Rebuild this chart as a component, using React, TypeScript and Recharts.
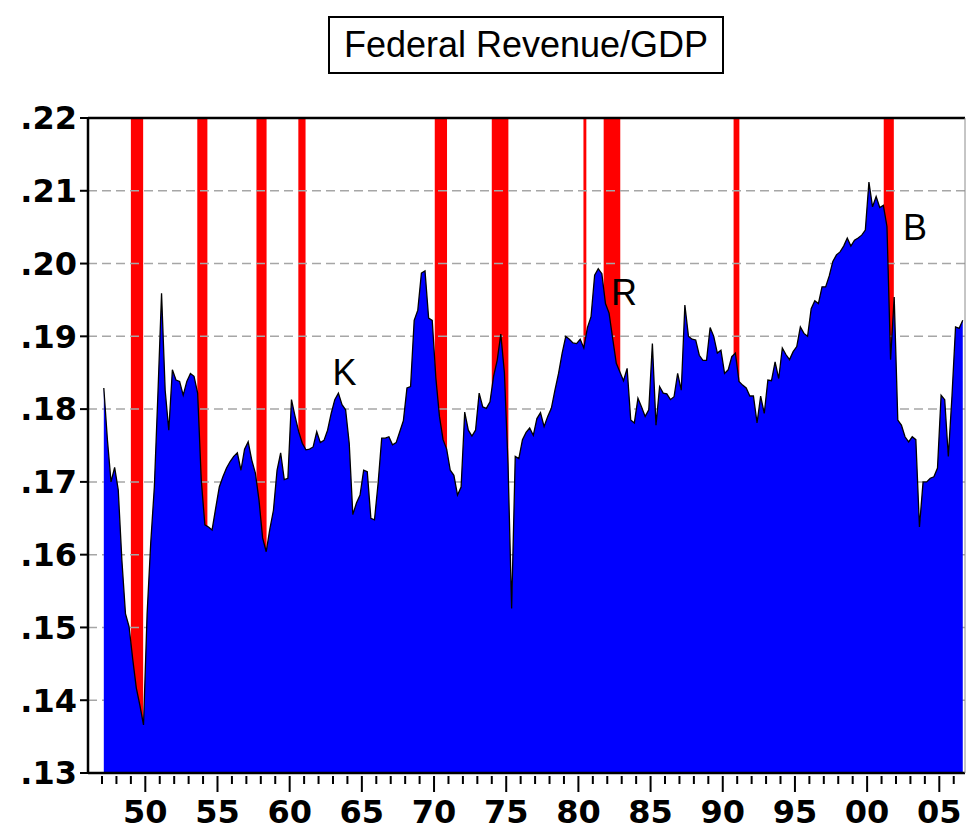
import React from 'react';
import { ComposedChart, Area, XAxis, YAxis, CartesianGrid, ReferenceArea, ReferenceLine, ReferenceDot } from 'recharts';

// Federal revenue as a share of GDP, quarterly, 1947Q1 - 2006Q3
const rev1940s = [0.1829, 0.1758, 0.1700, 0.1720, 0.1689, 0.1593, 0.1519, 0.1501, 0.1457, 0.1417, 0.1393, 0.1366];
const rev1950s = [
  0.1519, 0.1616, 0.1693, 0.1822, 0.1959, 0.1826, 0.1771, 0.1854, 0.1840, 0.1838,
  0.1819, 0.1838, 0.1849, 0.1845, 0.1822, 0.1703, 0.1641, 0.1638, 0.1634, 0.1664,
  0.1693, 0.1707, 0.1719, 0.1728, 0.1735, 0.1740, 0.1716, 0.1745, 0.1755, 0.1730,
  0.1712, 0.1675, 0.1623, 0.1604, 0.1635, 0.1661, 0.1716, 0.1740, 0.1703, 0.1705,
];
const rev1960s = [
  0.1813, 0.1790, 0.1769, 0.1753, 0.1744, 0.1745, 0.1748, 0.1769, 0.1754, 0.1757,
  0.1771, 0.1794, 0.1813, 0.1822, 0.1806, 0.1799, 0.1753, 0.1655, 0.1671, 0.1682,
  0.1716, 0.1714, 0.1650, 0.1648, 0.1698, 0.1760, 0.1760, 0.1762, 0.1751, 0.1754,
  0.1769, 0.1784, 0.1829, 0.1831, 0.1922, 0.1936, 0.1987, 0.1990, 0.1925, 0.1922,
];
const rev1970s = [
  0.1843, 0.1790, 0.1758, 0.1745, 0.1716, 0.1709, 0.1682, 0.1693, 0.1796, 0.1771,
  0.1763, 0.1771, 0.1822, 0.1803, 0.1801, 0.1810, 0.1845, 0.1867, 0.1903, 0.1850,
  0.1725, 0.1526, 0.1735, 0.1732, 0.1758, 0.1768, 0.1774, 0.1764, 0.1787, 0.1795,
  0.1776, 0.1790, 0.1801, 0.1826, 0.1849, 0.1877, 0.1900, 0.1896, 0.1891, 0.1890,
];
const rev1980s = [
  0.1896, 0.1884, 0.1912, 0.1927, 0.1984, 0.1993, 0.1986, 0.1945, 0.1932, 0.1897,
  0.1863, 0.1851, 0.1839, 0.1856, 0.1785, 0.1781, 0.1815, 0.1803, 0.1790, 0.1799,
  0.1890, 0.1778, 0.1831, 0.1822, 0.1821, 0.1813, 0.1817, 0.1849, 0.1826, 0.1943,
  0.1900, 0.1896, 0.1895, 0.1874, 0.1867, 0.1867, 0.1912, 0.1900, 0.1877, 0.1881,
];
const rev1990s = [
  0.1849, 0.1854, 0.1872, 0.1877, 0.1838, 0.1833, 0.1829, 0.1818, 0.1818, 0.1781,
  0.1818, 0.1794, 0.1840, 0.1839, 0.1865, 0.1842, 0.1884, 0.1875, 0.1868, 0.1879,
  0.1886, 0.1913, 0.1904, 0.1900, 0.1938, 0.1949, 0.1945, 0.1968, 0.1968, 0.1983,
  0.2003, 0.2012, 0.2016, 0.2024, 0.2035, 0.2024, 0.2032, 0.2035, 0.2039, 0.2046,
];
const rev2000s = [
  0.2112, 0.2078, 0.2092, 0.2077, 0.2080, 0.2051, 0.1868, 0.1954, 0.1785, 0.1778,
  0.1762, 0.1755, 0.1762, 0.1758, 0.1638, 0.1700, 0.1700, 0.1705, 0.1707, 0.1719,
  0.1819, 0.1813, 0.1735, 0.1817, 0.1913, 0.1911, 0.1922,
];

const startYear = 1947;

// recession shading, decimal years
const recessionStarts = [1949.0, 1953.6, 1957.7, 1960.6, 1970.05, 1974.0, 1980.35, 1981.75, 1990.75, 2001.15];
const recessionEnds = [1949.85, 1954.3, 1958.4, 1961.1, 1970.9, 1975.15, 1980.55, 1982.9, 1991.15, 2001.85];

const yTicks = [0.13, 0.14, 0.15, 0.16, 0.17, 0.18, 0.19, 0.20, 0.21, 0.22];
const gridLevels = [0.14, 0.15, 0.16, 0.17, 0.18, 0.19, 0.20, 0.21];
const xTicks = Array.from({ length: 60 }, (_, i) => 1947 + i);

const notes = [
  { label: 'K', t: 1963.8, v: 0.1851 },
  { label: 'R', t: 1983.16, v: 0.1961 },
  { label: 'B', t: 2003.32, v: 0.2050 },
];

const revenue = [...rev1940s, ...rev1950s, ...rev1960s, ...rev1970s, ...rev1980s, ...rev1990s, ...rev2000s];
const data = revenue.map((rev, i) => ({ t: startYear + i / 4 + 0.125, rev }));

const X_MIN = 1946.03;
const X_MAX = 2006.78;

const tickFont = "'DejaVu Sans', sans-serif";
const textFont = "'Liberation Sans', Arial, sans-serif";

const YearTick = (props: any) => {
  const { x, y, payload } = props;
  const yr: number = payload.value;
  const major = yr % 5 === 0;
  return (
    <g>
      <line x1={x} x2={x} y1={y + 3} y2={y + (major ? 19 : 11)} stroke="#000" strokeWidth={2} />
      {major && (
        <text x={x} y={y + 50} textAnchor="middle" fontSize={32} fontWeight="bold" fontFamily={tickFont} fill="#000">
          {String(yr % 100).padStart(2, '0')}
        </text>
      )}
    </g>
  );
};

const App: React.FC = () => (
  <div style={{ position: 'absolute', left: 0, top: 0, width: 966, height: 831, background: '#fff' }}>
    <div
      style={{
        position: 'absolute', left: 328, top: 16, width: 396, height: 58, boxSizing: 'border-box',
        border: '2px solid #000', display: 'flex', alignItems: 'center', justifyContent: 'center',
        fontFamily: textFont, fontSize: 36, color: '#000',
      }}
    >
      Federal Revenue/GDP
    </div>
    <ComposedChart width={966} height={831} data={data} margin={{ top: 118, right: 1, bottom: 0, left: 0 }}>
      <CartesianGrid horizontal={false} vertical={false} fill="#fff" />
      <XAxis
        dataKey="t" type="number" domain={[X_MIN, X_MAX]} ticks={xTicks} interval={0} allowDataOverflow
        height={58} tickSize={0} tickMargin={0} tickLine={false}
        axisLine={{ stroke: '#000', strokeWidth: 2.5 }}
        tick={(p: any) => <YearTick {...p} />}
      />
      <YAxis
        type="number" domain={[0.13, 0.22]} ticks={yTicks} interval={0} allowDataOverflow width={88}
        tickSize={8} tickMargin={3}
        axisLine={{ stroke: '#000', strokeWidth: 2.5 }}
        tickLine={{ stroke: '#000', strokeWidth: 2 }}
        tick={{ fill: '#000', fontSize: 32, fontWeight: 'bold', fontFamily: tickFont }}
        tickFormatter={(v: number) => v.toFixed(2).replace(/^0/, '')}
      />
      {recessionStarts.map((s, i) => (
        <ReferenceArea key={'rec' + i} x1={s} x2={recessionEnds[i]} y1={0.13} y2={0.22} fill="#FF0000" fillOpacity={1} stroke="none" zIndex={50} />
      ))}
      {gridLevels.map((g) => (
        <ReferenceLine key={'g' + g} y={g} stroke="#A6A6A6" strokeWidth={1.5} strokeDasharray="9 5" zIndex={60} />
      ))}
      <Area
        dataKey="rev" type="linear" baseValue="dataMin" fill="#0000FF" fillOpacity={1}
        stroke="#000" strokeWidth={1.3} dot={false} activeDot={false} isAnimationActive={false} zIndex={100}
      />
      <ReferenceLine y={0.22} stroke="#000" strokeWidth={2.5} zIndex={600} />
      <ReferenceLine x={X_MAX} stroke="#8C8C8C" strokeWidth={1} zIndex={600} />
      {notes.map((n) => (
        <ReferenceDot
          key={n.label} x={n.t} y={n.v} r={0} fill="none" stroke="none" zIndex={700}
          label={{ value: n.label, position: 'center', fontSize: 36, fill: '#000', fontFamily: textFont }}
        />
      ))}
    </ComposedChart>
  </div>
);

export default App;
